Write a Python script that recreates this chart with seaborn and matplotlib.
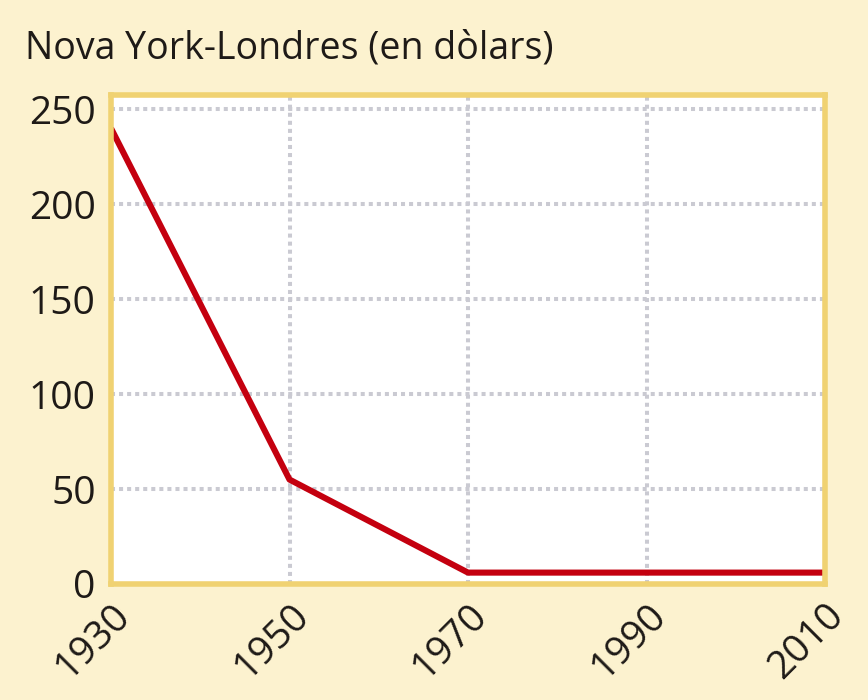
import matplotlib
matplotlib.use("Agg")
import matplotlib.pyplot as plt
import seaborn as sns
import pandas as pd

# dades
anys = [1930, 1950, 1970, 1990, 2010]
preus = [240, 55, 6, 6, 6]
yticks = [0, 50, 100, 150, 200, 250]

fons = "#FCF2CF"
groc = "#F0D272"
vermell = "#C4000F"

sns.set_theme(style="white")
plt.rcParams["font.family"] = ["Open Sans", "DejaVu Sans"]

df = pd.DataFrame({"any": anys, "preu": preus})

fig = plt.figure(figsize=(8.68, 7.0), dpi=100, facecolor=fons)
ax = fig.add_axes([111 / 868, 1 - 584 / 700, (825 - 111) / 868, (584 - 95) / 700])
ax.set_facecolor("white")

sns.lineplot(data=df, x="any", y="preu", color=vermell, linewidth=4.4, ax=ax,
             solid_capstyle="butt", zorder=3)

ax.set_xlim(1930, 2010)
ax.set_ylim(0, 257.5)
ax.set_xticks(anys)
ax.set_yticks(yticks)
ax.set_xlabel("")
ax.set_ylabel("")

ax.grid(True, color="#CACAD2", linestyle=(0, (1, 1)), linewidth=2.9, zorder=1)
for s in ax.spines.values():
    s.set_visible(True)
    s.set_color(groc)
    s.set_linewidth(4.0)
    s.set_zorder(4)

ax.tick_params(axis="both", which="major", direction="out", length=7, width=4.0,
               color=groc, labelsize=28, labelcolor="#1E1A17", pad=4)
ax.tick_params(axis="x", pad=2)
for lbl in ax.get_xticklabels():
    lbl.set_rotation(45)
    lbl.set_ha("right")
    lbl.set_va("top")
    lbl.set_rotation_mode("anchor")

fig.text(25 / 868, 1 - 48 / 700, "Nova York-Londres (en dòlars)", fontsize=27,
         color="#1E1A17", va="center", ha="left")

fig.savefig("out.png", dpi=100, facecolor=fons)
